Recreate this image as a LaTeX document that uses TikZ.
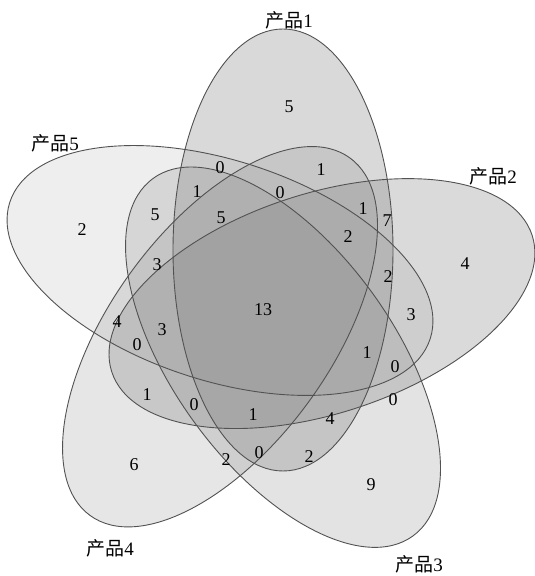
\documentclass[tikz,border=0pt]{standalone}
\usepackage{fontspec}
\setmainfont{Liberation Serif}
\newfontfamily\cjk{Noto Sans CJK SC}
\begin{document}
\begin{tikzpicture}[x=1pt,y=1pt,
  ellline/.style={draw=black!68, line width=0.9pt},
  num/.style={font=\fontsize{18}{18}\selectfont, inner sep=0pt},
  lab/.style={font=\fontsize{19}{19}\selectfont, inner sep=0pt}]
\useasboundingbox (0,0) rectangle (535,576);
\coordinate (C) at (265.6,272.4);
% fills
\foreach \k/\op in {0/0.30,1/0.29,2/0.22,3/0.20,4/0.134} {
  \begin{scope}[shift={(C)}, rotate=-72*\k]
    \fill[gray, fill opacity=\op] (17.4,53.6) ellipse [x radius=110, y radius=221];
  \end{scope}
}
% outlines
\foreach \k in {0,...,4} {
  \begin{scope}[shift={(C)}, rotate=-72*\k]
    \draw[ellline] (17.4,53.6) ellipse [x radius=110, y radius=221];
  \end{scope}
}
% set labels
\node[lab] (l1) at (289,556) {{\cjk 产品}1};
\node[lab] (l2) at (493,400) {{\cjk 产品}2};
\node[lab] (l3) at (419,12) {{\cjk 产品}3};
\node[lab] (l4) at (110,28) {{\cjk 产品}4};
\node[lab] (l5) at (55,433) {{\cjk 产品}5};
% region counts
\node[num] (n1) at (289,469) {5};
\node[num] (n2) at (220,408) {0};
\node[num] (n3) at (321,406) {1};
\node[num] (n4) at (197,384) {1};
\node[num] (n5) at (280,383) {0};
\node[num] (n6) at (155,361) {5};
\node[num] (n7) at (221,358) {5};
\node[num] (n8) at (363,367) {1};
\node[num] (n9) at (387,355) {7};
\node[num] (n10) at (348,339) {2};
\node[num] (n11) at (82,346) {2};
\node[num] (n12) at (465,312) {4};
\node[num] (n13) at (157,311) {3};
\node[num] (n14) at (388,299) {2};
\node[num] (n15) at (263,266) {13};
\node[num] (n16) at (411,261) {3};
\node[num] (n17) at (117,254) {4};
\node[num] (n18) at (162,246) {3};
\node[num] (n19) at (137,231) {0};
\node[num] (n20) at (367,223) {1};
\node[num] (n21) at (395,209) {0};
\node[num] (n22) at (147,181) {1};
\node[num] (n23) at (194,171) {0};
\node[num] (n24) at (393,176) {0};
\node[num] (n25) at (253,161) {1};
\node[num] (n26) at (330,157) {4};
\node[num] (n27) at (134,111) {6};
\node[num] (n28) at (226,116) {2};
\node[num] (n29) at (259,123) {0};
\node[num] (n30) at (309,119) {2};
\node[num] (n31) at (371,91) {9};
\end{tikzpicture}
\end{document}
